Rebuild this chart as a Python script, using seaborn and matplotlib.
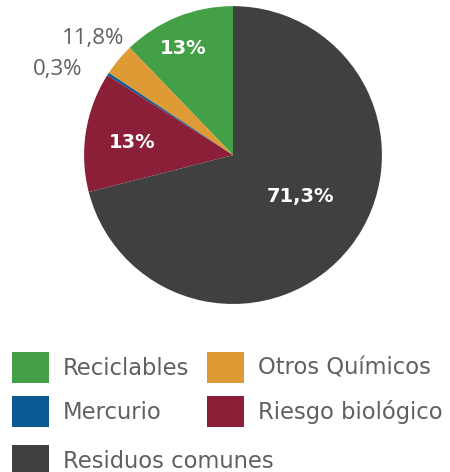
import numpy as np
import matplotlib
matplotlib.use("Agg")
import matplotlib.pyplot as plt
import seaborn as sns
from matplotlib.patches import Patch

# categories in drawing order (counter-clockwise from 12 o'clock)
categories = ["Reciclables", "Otros Químicos", "Mercurio", "Riesgo biológico", "Residuos comunes"]
# slice sizes as drawn in the picture (%)
shares = [12.2, 3.5, 0.3, 13.0, 71.0]
# percentages printed on the chart
pct_labels = ["13%", "11,8%", "0,3%", "13%", "71,3%"]

colors = ["#43a047", "#dd9a35", "#0b5a94", "#8b1f37", "#404040"]
grey_txt = "#606060"

sns.set_theme(style="white")
plt.rcParams["font.family"] = ["DejaVu Sans"]

fig = plt.figure(figsize=(4.5, 4.72), dpi=100)
ax = fig.add_axes([0.1867, 0.356, 0.6622, 0.631])

wedges, _ = ax.pie(shares, colors=colors, startangle=90, counterclock=True,
                   wedgeprops=dict(linewidth=0))
ax.set_xlim(-1, 1)
ax.set_ylim(-1, 1)
ax.set_aspect("equal")

# label placement: distance from centre and whether inside (white) or outside (grey)
dist = [0.79, 1.22, 1.31, 0.68, 0.53]
inside = [True, False, False, True, True]
ang_shift = [3, 0, 7, 2, 6]
for w, lab, d, ins, sh in zip(wedges, pct_labels, dist, inside, ang_shift):
    ang = np.deg2rad((w.theta1 + w.theta2) / 2 + sh)
    x, y = d * np.cos(ang), d * np.sin(ang)
    if ins:
        ax.text(x, y, lab, ha="center", va="center", color="white",
                fontsize=14, fontweight="bold")
    else:
        ax.text(x, y, lab, ha="center", va="center", color=grey_txt,
                fontsize=16, family=["Open Sans", "DejaVu Sans"])

leg_kw = dict(loc="upper left", frameon=False, fontsize=16.3,
              handlelength=1.64, handleheight=1.75, handletextpad=0.62,
              columnspacing=0.75, labelspacing=0.55, borderpad=0,
              borderaxespad=0, labelcolor=grey_txt)

# first two rows: two columns
order = [0, 2, 1, 3]
handles = [Patch(facecolor=colors[i], edgecolor="none") for i in order]
labels = [categories[i] for i in order]
fig.legend(handles, labels, ncol=2, bbox_to_anchor=(0.0267, 0.2542), **leg_kw)

# last row on its own
fig.legend([Patch(facecolor=colors[4], edgecolor="none")], [categories[4]],
           bbox_to_anchor=(0.0267, 0.0572), **leg_kw)

fig.savefig("out.png", dpi=100)
